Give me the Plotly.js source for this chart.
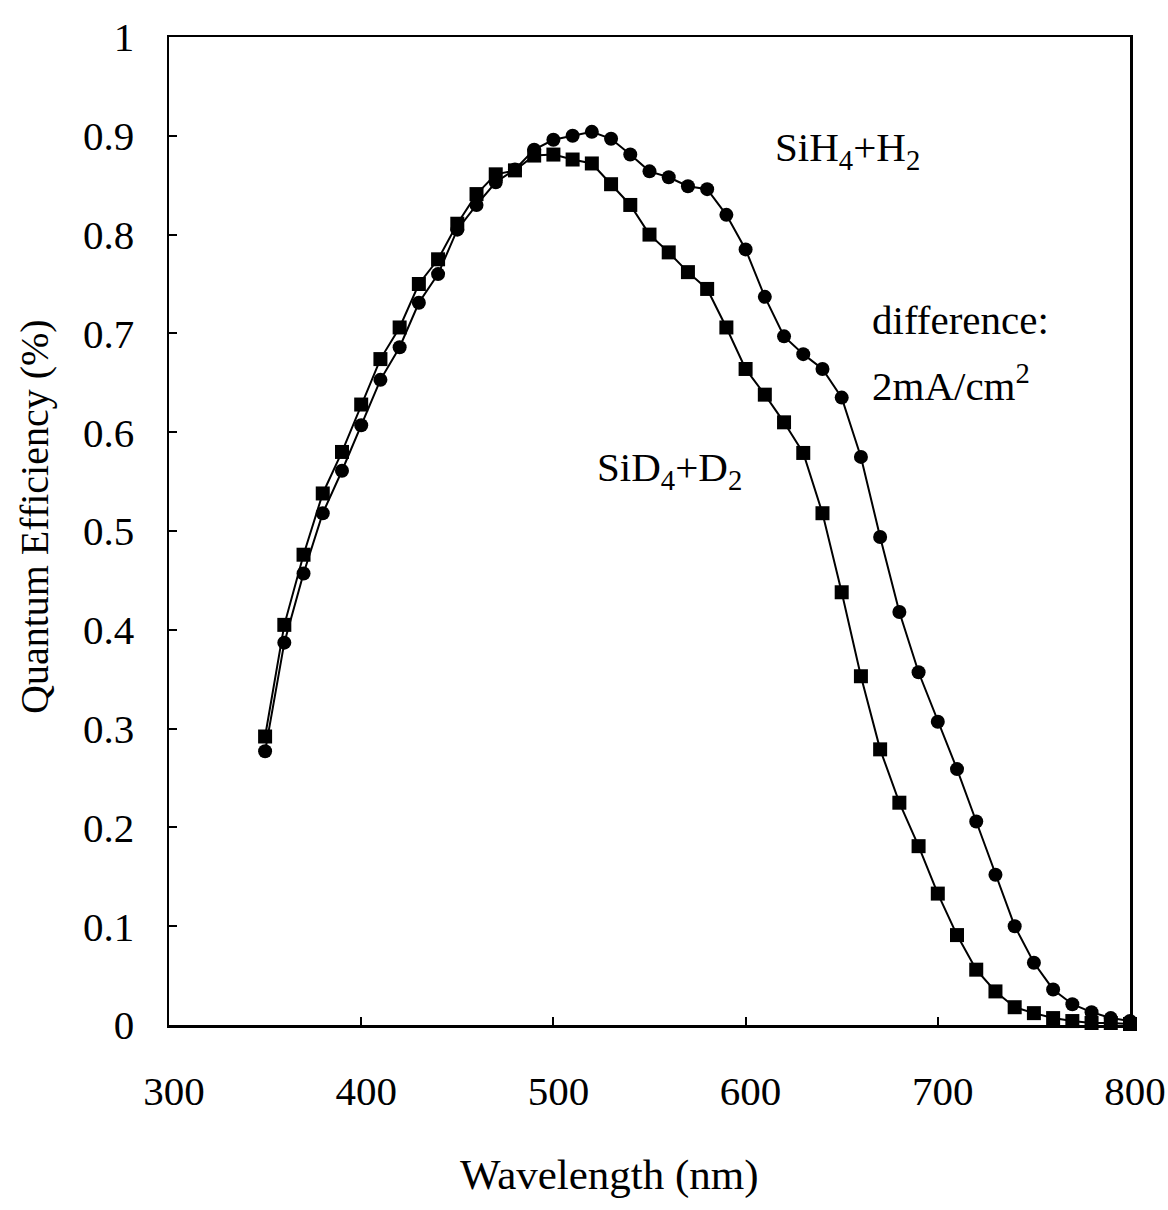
<!DOCTYPE html>
<html>
<head>
<meta charset="utf-8">
<script src="https://cdn.plot.ly/plotly-3.0.1.min.js"></script>
<style>html,body{margin:0;padding:0;background:#fff;}#chart{width:1168px;height:1210px;}</style>
</head>
<body>
<div id="chart"></div>
<script>
const wavelength = [350,360,370,380,390,400,410,420,430,440,450,460,470,480,490,500,510,520,530,540,550,560,570,580,590,600,610,620,630,640,650,660,670,680,690,700,710,720,730,740,750,760,770,780,790,800];
const qeSiH4 = [0.277,0.387,0.457,0.518,0.561,0.607,0.653,0.686,0.731,0.760,0.805,0.830,0.853,0.866,0.886,0.896,0.900,0.904,0.897,0.881,0.864,0.858,0.849,0.846,0.820,0.785,0.737,0.697,0.679,0.664,0.635,0.575,0.494,0.418,0.357,0.307,0.259,0.206,0.152,0.100,0.063,0.036,0.021,0.013,0.007,0.004];
const qeSiD4 = [0.292,0.405,0.476,0.538,0.580,0.628,0.674,0.706,0.750,0.775,0.811,0.841,0.861,0.865,0.880,0.881,0.876,0.872,0.851,0.830,0.800,0.782,0.762,0.745,0.706,0.664,0.638,0.610,0.579,0.518,0.438,0.353,0.279,0.225,0.181,0.133,0.091,0.056,0.034,0.018,0.012,0.007,0.004,0.002,0.002,0.001];
const xTicks = [300,400,500,600,700,800];
const yTicks = [0,0.1,0.2,0.3,0.4,0.5,0.6,0.7,0.8,0.9,1];
const yTickText = ["0","0.1","0.2","0.3","0.4","0.5","0.6","0.7","0.8","0.9","1"];

const serif = "Liberation Serif, Times New Roman, serif";

const traces = [
  {x: wavelength, y: qeSiD4, name: "SiD4+D2", type: "scatter", mode: "lines+markers",
   line: {color: "#000", width: 2}, marker: {symbol: "square", size: 14, color: "#000"}, cliponaxis: false},
  {x: wavelength, y: qeSiH4, name: "SiH4+H2", type: "scatter", mode: "lines+markers",
   line: {color: "#000", width: 2}, marker: {symbol: "circle", size: 14, color: "#000"}, cliponaxis: false}
];

const layout = {
  width: 1168, height: 1210,
  margin: {l: 169, r: 38, t: 37, b: 185},
  paper_bgcolor: "#fff", plot_bgcolor: "#fff",
  showlegend: false,
  font: {family: serif, color: "#000", size: 40},
  xaxis: {
    range: [300, 800], tickvals: xTicks, ticktext: xTicks.map(String),
    showgrid: false, zeroline: false, showline: true, linecolor: "#000", linewidth: 2.5, mirror: true,
    ticks: "inside", ticklen: 8, tickwidth: 2, tickcolor: "#000",
    tickfont: {family: serif, size: 41, color: "#000"}, ticklabelstandoff: 28, ticklabelshift: 5
  },
  yaxis: {
    range: [0, 1], tickvals: yTicks, ticktext: yTickText,
    showgrid: false, zeroline: false, showline: true, linecolor: "#000", linewidth: 2.5, mirror: true,
    ticks: "inside", ticklen: 8, tickwidth: 2, tickcolor: "#000",
    tickfont: {family: serif, size: 41, color: "#000"}, ticklabelstandoff: 24
  },
  annotations: [
    {text: "Wavelength (nm)", x: 0.4579, y: -0.1518, xref: "paper", yref: "paper", xanchor: "center", yanchor: "middle", showarrow: false, font: {family: serif, size: 43, color: "#000"}},
    {text: "Quantum Efficiency (%)", x: -0.1394, y: 0.5142, xref: "paper", yref: "paper", xanchor: "center", yanchor: "middle", textangle: -90, showarrow: false, font: {family: serif, size: 40, color: "#000"}},
    {text: "SiH<sub>4</sub>+H<sub>2</sub>", x: 652.8, y: 0.886, xref: "x", yref: "y", xanchor: "center", yanchor: "middle", showarrow: false, font: {family: serif, size: 41, color: "#000"}},
    {text: "difference:", x: 664.7, y: 0.714, xref: "x", yref: "y", xanchor: "left", yanchor: "middle", showarrow: false, font: {family: serif, size: 41, color: "#000"}},
    {text: "2mA/cm<sup>2</sup>", x: 664.7, y: 0.650, xref: "x", yref: "y", xanchor: "left", yanchor: "middle", showarrow: false, font: {family: serif, size: 41, color: "#000"}},
    {text: "SiD<sub>4</sub>+D<sub>2</sub>", x: 521.6, y: 0.562, xref: "x", yref: "y", xanchor: "left", yanchor: "middle", showarrow: false, font: {family: serif, size: 41, color: "#000"}}
  ]
};

Plotly.newPlot("chart", traces, layout, {displayModeBar: false, staticPlot: true});
</script>
</body>
</html>
